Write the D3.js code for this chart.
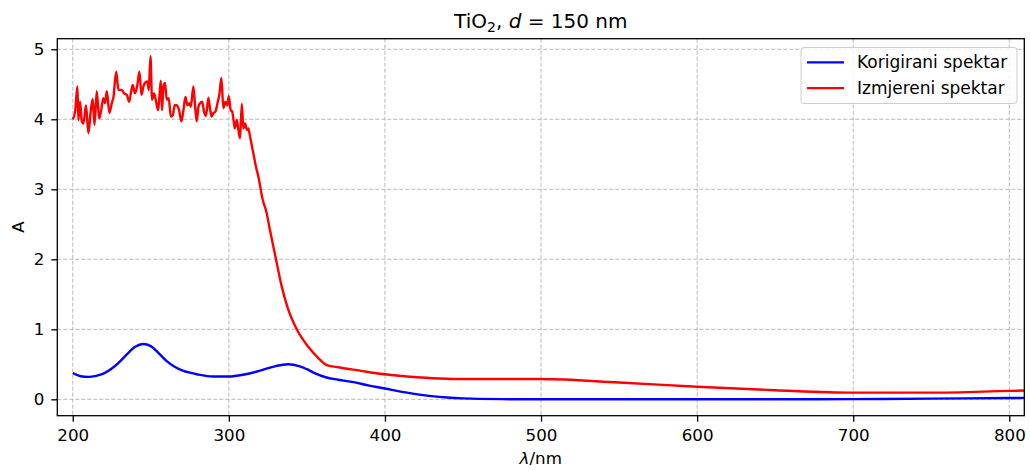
<!DOCTYPE html>
<html><head><meta charset="utf-8">
<script src="https://cdn.jsdelivr.net/npm/d3@7"></script>
<style>body{margin:0;background:#fff} text{font-family:"DejaVu Sans",sans-serif;fill:#000}</style>
</head><body><svg id="c" width="1030" height="470"></svg>
<script>
const xTicks=[200,300,400,500,600,700,800];
const yTicks=[0,1,2,3,4,5];
const seriesNames=["Korigirani spektar","Izmjereni spektar"];
const seriesColors=["#0000ff","#ff0000"];

const corrWl=[200,205,210,215,220,225,230,235,240,245,250,255,260,265,270,275,280,290,300,310,320,330,338,345,350,355,362,370,380,390,400,410,420,430,440,450,460,480,500,550,600,650,700,750,800,810];
const corrA=[0.376,0.33,0.32,0.335,0.37,0.44,0.535,0.65,0.75,0.79,0.76,0.66,0.55,0.47,0.415,0.38,0.355,0.325,0.325,0.355,0.41,0.475,0.50,0.475,0.43,0.375,0.315,0.28,0.245,0.195,0.155,0.11,0.075,0.045,0.025,0.013,0.006,0.002,0.0,0.0,0.0,0.001,0.003,0.01,0.018,0.02];

const measWl=[200.0,201.5,203.0,203.6,204.7,205.8,206.8,208.5,210.0,211.5,212.8,213.9,215.4,216.9,218.2,219.6,220.7,221.8,223.5,225.0,226.1,227.8,229.3,231.4,232.9,234.6,236.1,237.2,238.4,239.9,241.4,242.7,244.0,245.3,246.3,247.8,248.7,249.8,250.8,252.1,253.4,254.7,255.5,256.4,257.2,258.1,259.1,260.2,261.5,262.8,264.1,265.3,266.6,268.1,269.6,270.9,272.2,273.5,274.7,275.6,277.3,278.4,279.4,280.5,281.6,282.9,284.1,285.4,286.9,288.0,289.0,290.1,291.4,292.7,294.0,295.2,296.5,297.8,299.1,299.9,301.2,302.1,302.9,303.8,305.1,306.3,307.2,308.3,309.3,310.4,311.5,312.5,313.6,314.7,315.7,317.4,319.4,320.4,321.7,323.8,326.4,330.2,333.9,337.5,343.5,350.9,357.3,362.7,371,384,397,410,420,435,450,500,550,600,650,700,750,800,810];
const measA=[4.0,4.11,4.47,3.99,4.25,3.97,3.94,4.2,3.8,4.11,4.29,3.92,4.4,4.01,4.13,4.3,4.23,4.4,4.09,4.23,4.32,4.68,4.42,4.42,4.37,4.35,4.25,4.37,4.49,4.37,4.49,4.68,4.35,4.47,4.52,4.54,4.42,4.9,4.28,4.37,4.25,4.13,4.32,4.55,4.13,4.47,4.52,4.28,4.3,4.04,4.06,4.2,4.2,4.13,3.97,4.13,4.32,4.2,4.23,4.18,4.47,4.18,3.97,4.18,4.23,4.25,4.11,4.05,4.31,4.14,4.04,4.09,4.11,4.23,4.37,4.59,4.16,4.25,4.2,4.33,4.13,4.11,4.01,3.87,3.99,3.82,3.73,4.22,3.87,3.94,3.85,3.87,3.75,3.63,3.51,3.32,3.13,3.0,2.85,2.70,2.41,2.0,1.61,1.32,1.0,0.75,0.59,0.49,0.455,0.41,0.365,0.335,0.315,0.298,0.29,0.29,0.24,0.18,0.13,0.095,0.095,0.12,0.125];

const m={l:57.3,r:1024.3,t:38.7,b:415.7};
const svg=d3.select("#c");
const x=d3.scaleLinear().domain([190.1,809.6]).range([m.l,m.r]);
const y=d3.scaleLinear().domain([-0.234,5.151]).range([m.b,m.t]);
const FS=16.7;

// grid
const g=svg.append("g");
g.selectAll("line.vx").data(xTicks).join("line")
 .attr("x1",d=>x(d)).attr("x2",d=>x(d)).attr("y1",m.t).attr("y2",m.b)
 .attr("stroke","#b0b0b0").attr("stroke-width",0.9).attr("stroke-dasharray","4,2");
g.selectAll("line.hy").data(yTicks).join("line")
 .attr("y1",d=>y(d)).attr("y2",d=>y(d)).attr("x1",m.l).attr("x2",m.r)
 .attr("stroke","#b0b0b0").attr("stroke-width",0.9).attr("stroke-dasharray","4,2");

// lines
svg.append("clipPath").attr("id","cp").append("rect")
 .attr("x",m.l).attr("y",m.t).attr("width",m.r-m.l).attr("height",m.b-m.t);
const line=d3.line().x(d=>x(d[0])).y(d=>y(d[1])).curve(d3.curveMonotoneX);
const series=[d3.zip(corrWl,corrA), d3.zip(measWl,measA)];
series.forEach((s,i)=>{
 svg.append("path").datum(s).attr("d",line).attr("fill","none")
  .attr("stroke",seriesColors[i]).attr("stroke-width",2.4)
  .attr("stroke-linejoin","round").attr("clip-path","url(#cp)");
});

// axes
const xa=svg.append("g").attr("transform",`translate(0,${m.b})`)
 .call(d3.axisBottom(x).tickValues(xTicks).tickSize(6).tickPadding(7).tickFormat(d3.format("d")));
const ya=svg.append("g").attr("transform",`translate(${m.l},0)`)
 .call(d3.axisLeft(y).tickValues(yTicks).tickSize(6).tickPadding(7).tickFormat(d3.format("d")));
[xa,ya].forEach(a=>{a.select(".domain").remove();
 a.selectAll(".tick line").attr("stroke","#000").attr("stroke-width",1.3);
 a.selectAll(".tick text").attr("font-size",FS).attr("font-family","DejaVu Sans").attr("fill","#000");});

// frame
svg.append("rect").attr("x",m.l).attr("y",m.t).attr("width",m.r-m.l).attr("height",m.b-m.t)
 .attr("fill","none").attr("stroke","#000").attr("stroke-width",1.3);

// title
const t=svg.append("text").attr("x",(m.l+m.r)/2).attr("y",28).attr("text-anchor","middle").attr("font-size",20);
t.append("tspan").text("TiO");
t.append("tspan").attr("font-size",14).attr("dy",4).text("2");
t.append("tspan").attr("dy",-4).text(", ");
t.append("tspan").attr("font-style","italic").text("d");
t.append("tspan").text(" = 150 nm");

// axis labels
const xl=svg.append("text").attr("x",(m.l+m.r)/2).attr("y",464).attr("text-anchor","middle").attr("font-size",FS);
xl.append("tspan").attr("font-style","italic").text("λ");
xl.append("tspan").text("/nm");
svg.append("text").attr("transform","translate(24,227) rotate(-90)").attr("text-anchor","middle").attr("font-size",FS).text("A");

// legend
const lg=svg.append("g");
lg.append("rect").attr("x",801).attr("y",47.5).attr("width",216).attr("height",56).attr("rx",3)
 .attr("fill","#fff").attr("fill-opacity",0.8).attr("stroke","#cccccc").attr("stroke-width",1);
seriesNames.forEach((n,i)=>{
 const yy=62.4+i*25.7;
 lg.append("line").attr("x1",807).attr("x2",844).attr("y1",yy).attr("y2",yy)
  .attr("stroke",seriesColors[i]).attr("stroke-width",2.4);
 lg.append("text").attr("x",857).attr("y",yy+6).attr("font-size",17).text(n);
});
</script></body></html>
